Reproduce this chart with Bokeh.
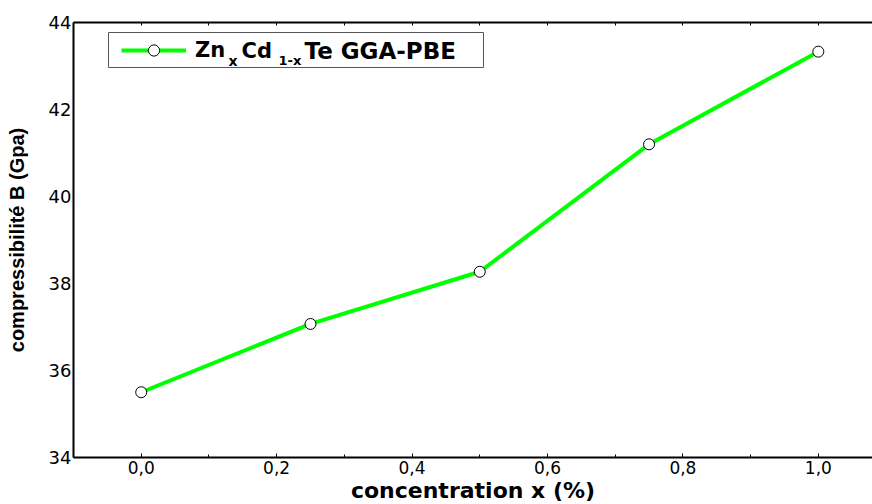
from bokeh.plotting import figure
from bokeh.models import (Range1d, LinearAxis, FixedTicker, CustomJSTickFormatter,
                          Legend, LegendItem, Label, BoxAnnotation, ColumnDataSource)
from bokeh.embed import file_html
from bokeh.resources import INLINE

# data
concentration = [0.0, 0.25, 0.5, 0.75, 1.0]
bulk_modulus = [35.50, 37.07, 38.27, 41.20, 43.33]
x_ticks = [0.0, 0.2, 0.4, 0.6, 0.8, 1.0]
x_minor = [-0.1, 0.0, 0.1, 0.2, 0.3, 0.4, 0.5, 0.6, 0.7, 0.8, 0.9, 1.0, 1.1]
y_ticks = [34, 36, 38, 40, 42, 44]

src = ColumnDataSource(dict(x=concentration, y=bulk_modulus))

p = figure(frame_width=799, frame_height=435,
           x_range=Range1d(-0.1, 1.08), y_range=Range1d(34, 44),
           output_backend="svg", toolbar_location=None,
           min_border_left=73, min_border_top=22, min_border_bottom=47,
           min_border_right=0)
p.outline_line_color = None
p.xgrid.visible = False
p.ygrid.visible = False
p.background_fill_color = "white"

TICK_FONT = "DejaVu Sans"

xa = p.xaxis[0]
xa.ticker = FixedTicker(ticks=x_ticks, minor_ticks=x_minor)
xa.formatter = CustomJSTickFormatter(code="return tick.toFixed(1).replace('.', ',')")
xa.axis_line_width = 2
xa.axis_line_color = "black"
xa.major_tick_in = 4
xa.major_tick_out = 0
xa.minor_tick_in = 3
xa.minor_tick_out = 0
xa.major_label_text_font = TICK_FONT
xa.major_label_text_font_size = "17px"
xa.major_label_text_color = "black"
xa.major_label_standoff = 3
xa.axis_label = "concentration x (%)"
xa.axis_label_text_font = "DejaVu Sans"
xa.axis_label_text_font_style = "bold"
xa.axis_label_text_font_size = "22px"
xa.axis_label_text_color = "black"
xa.axis_label_standoff = 1

ya = p.yaxis[0]
ya.ticker = FixedTicker(ticks=y_ticks, minor_ticks=[])
ya.axis_line_width = 2
ya.axis_line_color = "black"
ya.major_tick_in = 0
ya.major_tick_out = 0
ya.major_tick_line_color = None
ya.minor_tick_line_color = None
ya.major_label_text_font = TICK_FONT
ya.major_label_text_font_size = "18px"
ya.major_label_text_color = "black"
ya.major_label_standoff = 2
ya.axis_label = "compressibilité B (Gpa)"
ya.axis_label_text_font = "Liberation Sans"
ya.axis_label_text_font_style = "bold"
ya.axis_label_text_font_size = "20px"
ya.axis_label_text_color = "black"
ya.axis_label_standoff = 18

top = LinearAxis(ticker=FixedTicker(ticks=[], minor_ticks=x_minor),
                 axis_line_width=2, axis_line_color="black",
                 major_tick_in=4, major_tick_out=0,
                 minor_tick_in=3, minor_tick_out=0)
p.add_layout(top, "above")

line_r = p.line("x", "y", source=src, line_color="#00ff00", line_width=4)
pts_r = p.scatter("x", "y", source=src, marker="circle", size=11,
                  fill_color="white", line_color="black", line_width=1)

# legend frame
p.add_layout(BoxAnnotation(left=35, right=410, bottom=390, top=425,
                           left_units="screen", right_units="screen",
                           bottom_units="screen", top_units="screen",
                           fill_color="white", fill_alpha=1,
                           line_color="#555555", line_width=1, line_alpha=1,
                           level="underlay"))

legend = Legend(items=[LegendItem(label="Zn", renderers=[line_r, pts_r])],
                location=(48, 393), padding=0, glyph_width=65, glyph_height=28,
                label_standoff=9, label_text_font="DejaVu Sans",
                label_text_font_style="bold", label_text_font_size="21px",
                label_text_baseline="alphabetic", label_text_color="black",
                margin=0, spacing=0, border_line_color=None,
                background_fill_alpha=0, level="overlay")
p.add_layout(legend)

LEG_FONT = "DejaVu Sans"
parts = [("x", 155, 397, "14px"),
         ("Cd", 168, 407, "21px"), ("1-x", 205, 397, "13px"),
         ("Te GGA-PBE", 231, 407, "23px")]
for txt, sx, sy, fs in parts:
    p.add_layout(Label(x=sx, y=sy, x_units="screen", y_units="screen", text=txt,
                       text_font=LEG_FONT, text_font_style="bold",
                       text_font_size=fs, text_baseline="alphabetic",
                       text_color="black", level="overlay"))

open("out.html", "w").write(file_html(p, INLINE))
